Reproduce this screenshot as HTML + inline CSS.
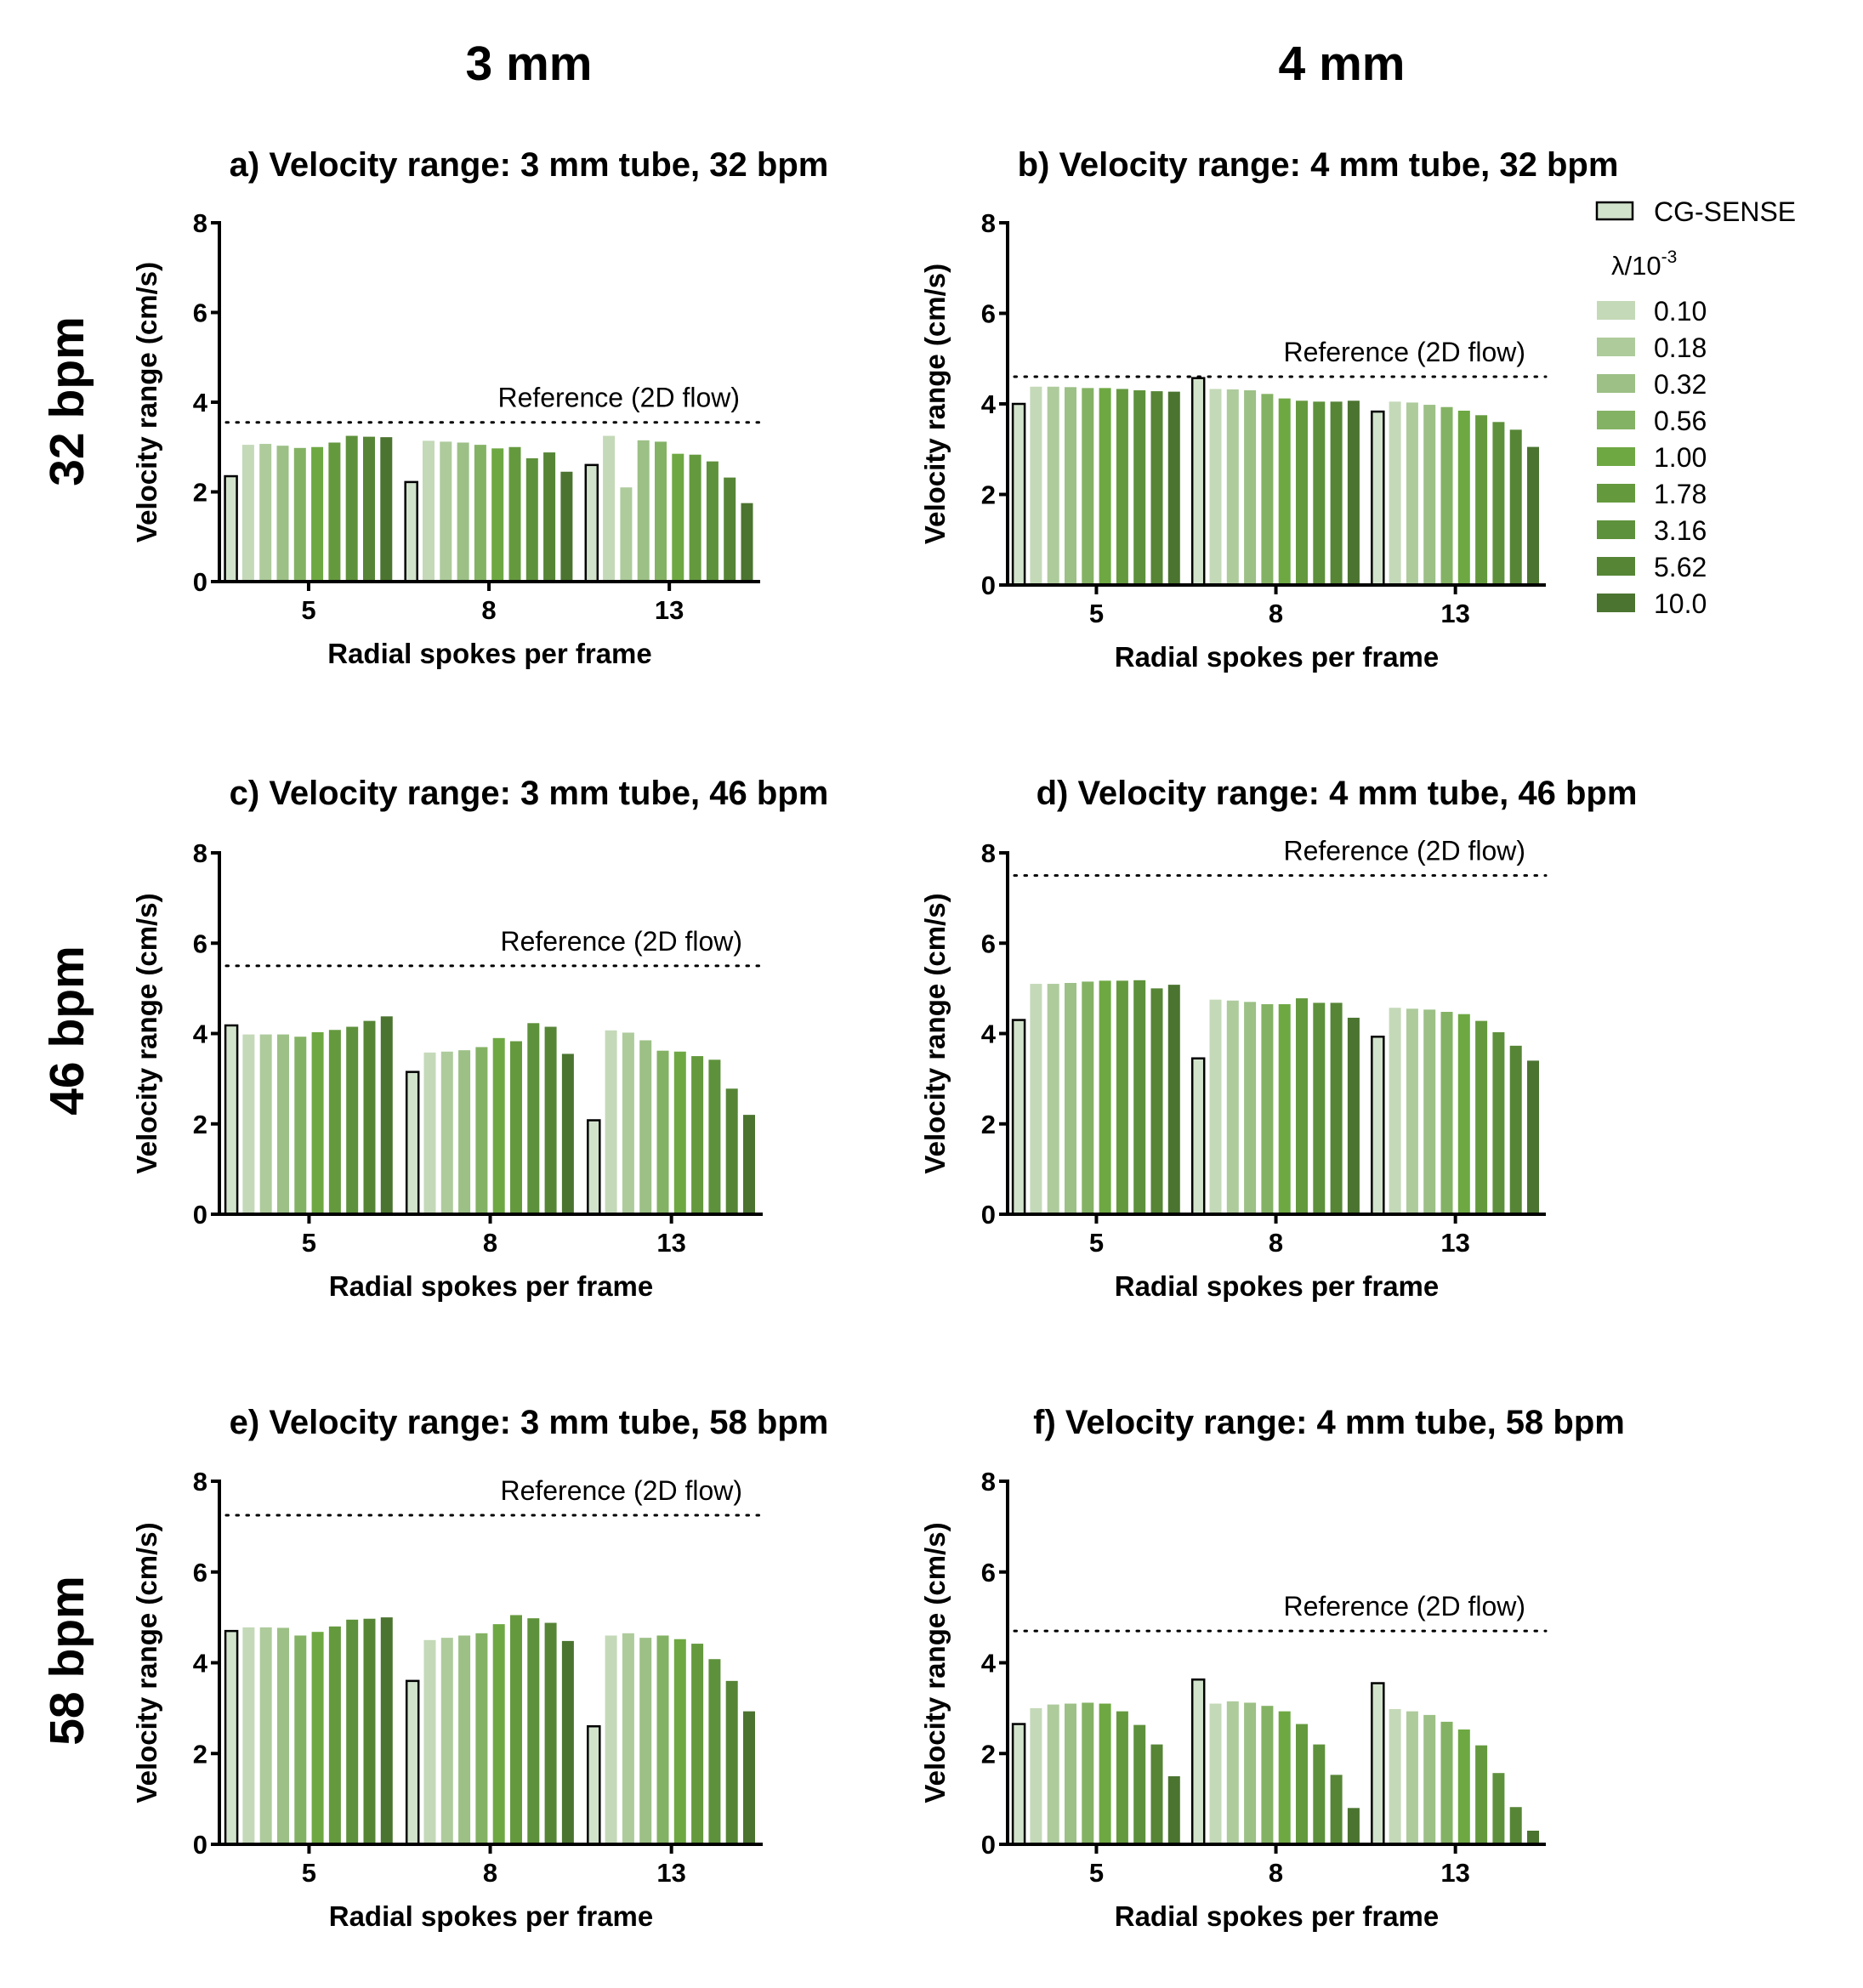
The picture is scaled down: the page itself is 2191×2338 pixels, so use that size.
<!DOCTYPE html>
<html><head><meta charset="utf-8"><style>
html,body{margin:0;padding:0;background:#fff}
svg{display:block;font-family:"Liberation Sans",Arial,sans-serif}
</style></head><body>
<svg id="fig" xmlns="http://www.w3.org/2000/svg" width="2191" height="2338" viewBox="0 0 2191 2338">
<text x="622" y="94" font-size="57" font-weight="bold" text-anchor="middle">3 mm</text>
<text x="1578" y="94" font-size="57" font-weight="bold" text-anchor="middle">4 mm</text>
<text transform="translate(98,472) rotate(-90)" font-size="57" font-weight="bold" text-anchor="middle">32 bpm</text>
<text transform="translate(98,1212) rotate(-90)" font-size="57" font-weight="bold" text-anchor="middle">46 bpm</text>
<text transform="translate(98,1953) rotate(-90)" font-size="57" font-weight="bold" text-anchor="middle">58 bpm</text>
<g id="legend"></g>
</svg>
<script>
const categories = ["5","8","13"];
const lambdaLabels = ["0.10","0.18","0.32","0.56","1.00","1.78","3.16","5.62","10.0"];
const yTicks = [0,2,4,6,8];
const titles = ["a) Velocity range: 3 mm tube, 32 bpm","b) Velocity range: 4 mm tube, 32 bpm","c) Velocity range: 3 mm tube, 46 bpm","d) Velocity range: 4 mm tube, 46 bpm","e) Velocity range: 3 mm tube, 58 bpm","f) Velocity range: 4 mm tube, 58 bpm"];
const refValues = [3.55,4.6,5.5,7.5,7.25,4.7];
const dataA = [[2.35,3.05,3.07,3.03,2.98,3.0,3.1,3.25,3.23,3.22],[2.22,3.14,3.12,3.1,3.05,2.97,3.0,2.75,2.88,2.45],[2.6,3.25,2.1,3.15,3.12,2.85,2.83,2.68,2.32,1.75]];
const dataB = [[4.0,4.38,4.38,4.37,4.35,4.35,4.33,4.3,4.28,4.27],[4.57,4.33,4.32,4.3,4.22,4.12,4.07,4.05,4.05,4.07],[3.83,4.05,4.03,3.98,3.93,3.85,3.75,3.6,3.43,3.05]];
const dataC = [[4.18,3.98,3.98,3.98,3.93,4.03,4.08,4.15,4.28,4.38],[3.15,3.58,3.6,3.63,3.7,3.9,3.83,4.23,4.15,3.55],[2.08,4.07,4.02,3.85,3.62,3.6,3.5,3.42,2.78,2.2]];
const dataD = [[4.3,5.1,5.1,5.12,5.15,5.17,5.17,5.18,5.0,5.08],[3.45,4.75,4.73,4.7,4.65,4.65,4.78,4.68,4.68,4.35],[3.93,4.57,4.55,4.53,4.48,4.43,4.28,4.03,3.73,3.4]];
const dataE = [[4.7,4.78,4.78,4.77,4.6,4.68,4.8,4.95,4.97,5.0],[3.6,4.5,4.55,4.6,4.65,4.85,5.05,4.98,4.88,4.48],[2.6,4.6,4.65,4.55,4.6,4.52,4.42,4.08,3.6,2.93]];
const dataF = [[2.65,3.0,3.08,3.1,3.12,3.1,2.93,2.63,2.2,1.5],[3.63,3.1,3.15,3.12,3.05,2.93,2.65,2.2,1.53,0.8],[3.55,2.98,2.93,2.85,2.7,2.53,2.18,1.57,0.82,0.3]];
const allData = [dataA,dataB,dataC,dataD,dataE,dataF];

const colors = ["#d2e3cc","#c4d9b8","#aecb9c","#9cc086","#84b264","#6ea842","#65993e","#5e913b","#568536","#4b7430"];
const NS="http://www.w3.org/2000/svg";
const svg=document.getElementById('fig');
function mk(tag,attrs,parent){const e=document.createElementNS(NS,tag);for(const k in attrs)e.setAttribute(k,attrs[k]);(parent||svg).appendChild(e);return e;}
const layouts=[
 {x0:258,top:262,zero:684,right:894},
 {x0:1185,top:262,zero:688,right:1818},
 {x0:258,top:1003,zero:1428,right:897},
 {x0:1185,top:1003,zero:1428,right:1818},
 {x0:258,top:1742,zero:2169,right:897},
 {x0:1185,top:1742,zero:2169,right:1818}];
const titleY=[207,207,946,946,1686,1686];
const titleX=[622,1550,622,1572,622,1563];
layouts.forEach((L,p)=>{
  const g=mk('g',{});
  
  
  const y=v=>L.zero-(L.zero-L.top)*v/8;
  const groupCenter=i=>L.x0+(L.right-L.x0)*(0.165+0.3335*i);
  const cx=(L.x0+L.right)/2;
  const t=mk('text',{x:titleX[p],y:titleY[p],'font-size':40,'font-weight':'bold','text-anchor':'middle'},g);
  
  
  t.textContent=titles[p];
  allData[p].forEach((grp,gi)=>{
    grp.forEach((v,bi)=>{
      const bx=groupCenter(gi)+(bi-4.5)*20.3-7;
      const r=mk('rect',{x:bx,y:y(v),width:14,height:L.zero-y(v),fill:colors[bi]},g);
      if(bi===0){r.setAttribute('stroke','#000');r.setAttribute('stroke-width','2.5');}
      
      
    });
  });
  const ry=y(refValues[p]);
  const rl=mk('line',{x1:L.x0+8,x2:L.right,y1:ry,y2:ry,stroke:'#000','stroke-width':3,'stroke-dasharray':'2.5 9.5','stroke-linecap':'round'},g);
  
  
  const rt=mk('text',{x:L.right-24,y:ry-18,'font-size':32,'text-anchor':'end'},g);
  
  
  rt.textContent='Reference (2D flow)';
  const ya=mk('line',{x1:L.x0,x2:L.x0,y1:L.top-2,y2:L.zero+2,stroke:'#000','stroke-width':4},g);
  
  
  const xa=mk('line',{x1:L.x0-2,x2:L.right,y1:L.zero,y2:L.zero,stroke:'#000','stroke-width':4},g);
  
  
  yTicks.forEach(v=>{
    mk('line',{x1:L.x0-10,x2:L.x0,y1:y(v),y2:y(v),stroke:'#000','stroke-width':4},g);
    const tl=mk('text',{x:L.x0-14,y:y(v)+11,'font-size':31,'font-weight':'bold','text-anchor':'end'},g);
    
    
    tl.textContent=v;
  });
  categories.forEach((c,i)=>{
    const gx=groupCenter(i);
    mk('line',{x1:gx,x2:gx,y1:L.zero,y2:L.zero+11,stroke:'#000','stroke-width':4},g);
    const tl=mk('text',{x:gx,y:L.zero+44,'font-size':31,'font-weight':'bold','text-anchor':'middle'},g);
    
    
    tl.textContent=c;
  });
  const xt=mk('text',{x:cx,y:L.zero+96,'font-size':33,'font-weight':'bold','text-anchor':'middle'},g);
  
  
  xt.textContent='Radial spokes per frame';
  const yt=mk('text',{transform:`translate(${L.x0-74},${(L.top+L.zero)/2}) rotate(-90)`,'font-size':33,'font-weight':'bold','text-anchor':'middle'},g);
  
  
  yt.textContent='Velocity range (cm/s)';
});
const lg=document.getElementById('legend');
const cgR=mk('rect',{x:1878,y:238,width:42,height:20,fill:colors[0],stroke:'#000','stroke-width':2.5},lg);


const cgT=mk('text',{x:1945,y:260,'font-size':32},lg);


cgT.textContent='CG-SENSE';
const lt=mk('text',{x:1895,y:323,'font-size':31},lg);


lt.innerHTML='λ/10<tspan dy="-14" font-size="21">-3</tspan>';
lambdaLabels.forEach((l,i)=>{
  const yy=354+i*43;
  const s=mk('rect',{x:1878,y:yy,width:45,height:22,fill:colors[i+1]},lg);
  
  
  const tx=mk('text',{x:1945,y:yy+23,'font-size':32},lg);
  
  
  tx.textContent=l;
});
</script>
</body></html>
